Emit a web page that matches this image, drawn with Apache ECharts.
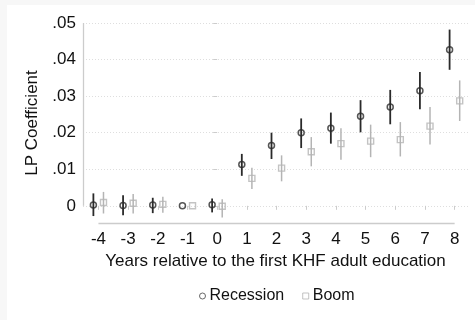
<!DOCTYPE html>
<html>
<head>
<meta charset="utf-8">
<script src="https://cdn.jsdelivr.net/npm/echarts@6/dist/echarts.min.js"></script>
<style>
  html, body { margin: 0; padding: 0; background: #f7f7f7; }
  #chart { position: absolute; left: 7px; top: 5px; width: 468px; height: 315px; background: #fff; }
</style>
</head>
<body>
<div id="chart"></div>
<script>
// event years
var years = [-4, -3, -2, -1, 0, 1, 2, 3, 4, 5, 6, 7, 8];

// recession: coefficient and 95% interval
var recCoef = [0.0002, 0.0001, 0.0002, 0, 0.0003, 0.0113, 0.0165, 0.0200, 0.0212, 0.0245, 0.0270, 0.0315, 0.0427];
var recLow  = [-0.0028, -0.0026, -0.0020, 0, -0.0018, 0.0082, 0.0128, 0.0158, 0.0170, 0.0201, 0.0223, 0.0264, 0.0372];
var recHigh = [0.0034, 0.0029, 0.0022, 0, 0.0020, 0.0142, 0.0200, 0.0239, 0.0255, 0.0289, 0.0317, 0.0366, 0.0482];

// boom
var boomCoef = [0.0009, 0.0007, 0.0004, 0, -0.0001, 0.0075, 0.0103, 0.0148, 0.0170, 0.0177, 0.0181, 0.0218, 0.0287];
var boomLow  = [-0.0021, -0.0021, -0.0019, 0, -0.0032, 0.0046, 0.0067, 0.0108, 0.0126, 0.0133, 0.0135, 0.0168, 0.0232];
var boomHigh = [0.0038, 0.0032, 0.0025, 0, 0.0018, 0.0104, 0.0138, 0.0188, 0.0212, 0.0222, 0.0229, 0.0270, 0.0343];

var yTicks = [0, 0.01, 0.02, 0.03, 0.04, 0.05];
var yTickLabels = ['0', '.01', '.02', '.03', '.04', '.05'];

var xMin = -4.52, xMax = 8.45;
var yMin = -0.0047, yMax = 0.05;
var shift = 0.17;
var darkCol = '#2a2a2a', lightCol = '#b4b4b4', axisCol = '#cccccc';
var txtCol = '#111';
var font = '"Liberation Sans", Arial, sans-serif';

function bars(off, lo, hi) {
  return years.map(function (y, i) { return [y + off, lo[i], hi[i]]; });
}
function points(off, v) {
  return years.map(function (y, i) { return [y + off, v[i]]; });
}
function whisker(color, width) {
  return function (params, api) {
    var a = api.coord([api.value(0), api.value(1)]);
    var b = api.coord([api.value(0), api.value(2)]);
    return {
      type: 'line',
      shape: { x1: a[0], y1: a[1], x2: b[0], y2: b[1] },
      style: { stroke: color, lineWidth: width }
    };
  };
}

var chart = echarts.init(document.getElementById('chart'));
chart.setOption({
  animation: false,
  textStyle: { fontFamily: font },
  grid: { left: 76, right: 7, top: 18, bottom: 97 },
  xAxis: {
    type: 'value',
    min: xMin, max: xMax,
    name: 'Years relative to the first KHF adult education',
    nameLocation: 'middle',
    nameGap: 29,
    nameTextStyle: { fontSize: 17, color: txtCol, fontFamily: font },
    axisLine: { show: false },
    axisTick: { show: true, length: 4, customValues: years, lineStyle: { color: axisCol } },
    axisLabel: { customValues: years, margin: 8, fontSize: 17, color: txtCol, fontFamily: font },
    splitLine: { show: false }
  },
  yAxis: {
    type: 'value',
    min: yMin, max: yMax,
    name: 'LP Coefficient',
    nameLocation: 'middle',
    nameGap: 42,
    nameTextStyle: { fontSize: 17, color: txtCol, fontFamily: font },
    axisLine: { show: false },
    axisTick: { show: true, length: 4, customValues: yTicks, lineStyle: { color: axisCol } },
    axisLabel: {
      customValues: yTicks, margin: 7, fontSize: 17, color: txtCol, fontFamily: font,
      formatter: function (v) { return yTickLabels[yTicks.indexOf(v)] || ''; }
    },
    splitLine: { show: true, lineStyle: { color: '#dedede', type: [1, 2], width: 1 } }
  },
  legend: {
    data: [
      { name: 'Recession', icon: 'circle', itemStyle: { color: '#fff', borderColor: '#444', borderWidth: 1 } },
      { name: 'Boom', icon: 'rect', itemStyle: { color: '#fff', borderColor: lightCol, borderWidth: 1 } }
    ],
    left: 187, top: 278,
    itemWidth: 6, itemHeight: 6, itemGap: 18,
    textStyle: { fontSize: 16, color: txtCol, fontFamily: font, padding: [0, 0, 0, -1] }
  },
  series: [
    {
      name: 'axes', type: 'line', data: [], silent: true,
      markLine: {
        silent: true, symbol: 'none', label: { show: false },
        lineStyle: { color: axisCol, type: 'solid', width: 1.3 },
        data: [
          [{ coord: [xMin, 0] }, { coord: [xMin, 0.05] }],
          [{ coord: [-4, yMin] }, { coord: [8, yMin] }]
        ]
      }
    },
    { name: 'boomCI', type: 'custom', renderItem: whisker(lightCol, 1.5), data: bars(shift, boomLow, boomHigh), z: 2 },
    { name: 'recCI', type: 'custom', renderItem: whisker(darkCol, 1.8), data: bars(-shift, recLow, recHigh), z: 2 },
    {
      name: 'Boom', type: 'scatter', symbol: 'rect', symbolSize: 6, z: 3,
      itemStyle: { color: 'rgba(0,0,0,0)', borderColor: lightCol, borderWidth: 1.4 },
      data: points(shift, boomCoef)
    },
    {
      name: 'Recession', type: 'scatter', symbol: 'circle', symbolSize: 6, z: 3,
      itemStyle: { color: 'rgba(0,0,0,0)', borderColor: darkCol, borderWidth: 1.5 },
      data: points(-shift, recCoef)
    }
  ]
});
</script>
</body>
</html>
